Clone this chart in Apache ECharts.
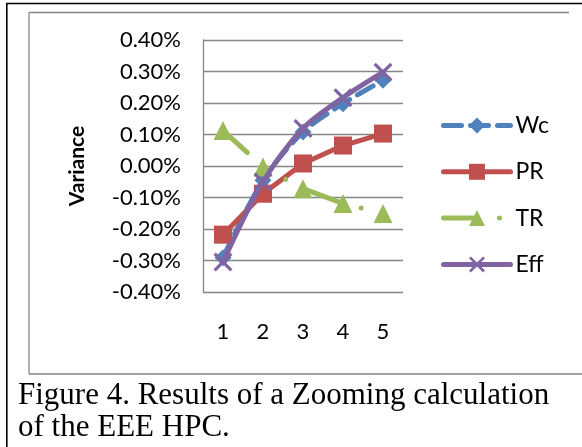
<!DOCTYPE html>
<html>
<head>
<meta charset="utf-8">
<script src="https://cdn.jsdelivr.net/npm/echarts@6/dist/echarts.min.js"></script>
<style>
html,body{margin:0;padding:0;background:#fff;}
#chart{width:582px;height:447px;}
</style>
</head>
<body>
<div id="chart"></div>
<script>
const categories = ['1', '2', '3', '4', '5'];
const wcValues  = [-0.291, -0.045, 0.108, 0.198, 0.272];
const prValues  = [-0.218, -0.088, 0.008, 0.065, 0.103];
const trValues  = [0.113, -0.003, -0.072, -0.119, -0.151];
const effValues = [-0.305, -0.051, 0.119, 0.217, 0.298];
const yTicks = { min: -0.4, max: 0.4, interval: 0.1 };
const seriesNames = ['Wc', 'PR', 'TR', 'Eff'];
const captionLines = ['Figure 4. Results of a Zooming calculation', 'of the EEE HPC.'];

const labelFont = 'Lato, "Noto Sans", sans-serif';
const xMark = 'path://M0,1.2 L1.2,0 L10,8.8 L8.8,10 Z M8.8,0 L10,1.2 L1.2,10 L0,8.8 Z';
const LW = 5;

const chart = echarts.init(document.getElementById('chart'), null, {renderer: 'canvas'});
chart.setOption({
  animation: false,
  backgroundColor: '#fff',
  grid: { left: 203, top: 40, width: 200, height: 252, containLabel: false },
  legend: {
    orient: 'vertical',
    left: 441,
    top: 114,
    padding: 0,
    itemWidth: 67,
    itemHeight: 20,
    itemGap: 23.3,
    lineStyle: { width: LW },
    textStyle: { fontFamily: labelFont, fontSize: 23, color: '#000' },
    data: [
      { name: seriesNames[0] },
      { name: seriesNames[1] },
      { name: seriesNames[2], lineStyle: { width: LW, type: [30, 26, 0.01, 100] } },
      { name: seriesNames[3] }
    ]
  },
  xAxis: {
    type: 'category',
    data: categories,
    boundaryGap: true,
    axisLine: { show: false },
    axisTick: { show: false },
    axisLabel: { margin: 29, fontFamily: labelFont, fontSize: 22, color: '#000' }
  },
  yAxis: {
    type: 'value',
    min: yTicks.min,
    max: yTicks.max,
    interval: yTicks.interval,
    name: 'Variance',
    nameLocation: 'middle',
    nameRotate: 90,
    nameGap: 115,
    nameTextStyle: { fontFamily: labelFont, fontSize: 21, fontWeight: 'bold', color: '#000' },
    axisLine: { show: true, lineStyle: { color: '#868686', width: 1.3 } },
    axisTick: { show: false },
    splitLine: { show: true, lineStyle: { color: '#868686', width: 1.3 } },
    axisLabel: {
      margin: 22,
      fontFamily: labelFont, fontSize: 22, color: '#000',
      formatter: v => (Math.abs(v) < 1e-9 ? 0 : v).toFixed(2) + '%'
    }
  },
  series: [
    {
      name: seriesNames[0], type: 'line', data: wcValues, smooth: 0.3,
      symbol: 'diamond', symbolSize: 17,
      itemStyle: { color: '#4F81BD' },
      lineStyle: { color: '#4F81BD', width: LW, type: [18, 9], cap: 'round' },
      z: 2
    },
    {
      name: seriesNames[1], type: 'line', data: prValues,
      symbol: 'rect', symbolSize: 18,
      itemStyle: { color: '#C0504D' },
      lineStyle: { color: '#C0504D', width: LW, cap: 'round' },
      z: 3
    },
    {
      name: seriesNames[2], type: 'line', data: trValues,
      symbol: 'triangle', symbolSize: 19,
      itemStyle: { color: '#9BBB59' },
      lineStyle: { color: '#9BBB59', width: LW, type: [33, 47, 0.01, 19, 43, 19, 0.01, 100], cap: 'round' },
      z: 4
    },
    {
      name: seriesNames[3], type: 'line', data: effValues, smooth: 0.3,
      symbol: xMark, symbolSize: 19,
      itemStyle: { color: '#8064A2' },
      lineStyle: { color: '#8064A2', width: LW, cap: 'round' },
      z: 5
    }
  ],
  graphic: [
    { type: 'line', shape: { x1: 6, y1: 3.5, x2: 582, y2: 3.5 }, style: { stroke: '#000', lineWidth: 1.6 } },
    { type: 'line', shape: { x1: 6.8, y1: 3, x2: 6.8, y2: 447 }, style: { stroke: '#000', lineWidth: 1.6 } },
    { type: 'line', shape: { x1: 29, y1: 12.5, x2: 569, y2: 12.5 }, style: { stroke: '#868686', lineWidth: 1.3 } },
    { type: 'line', shape: { x1: 29, y1: 12.5, x2: 29, y2: 374 }, style: { stroke: '#868686', lineWidth: 1.3 } },
    { type: 'line', shape: { x1: 29, y1: 374, x2: 582, y2: 374 }, style: { stroke: '#868686', lineWidth: 1.3 } },
    { type: 'text', left: 18, top: 380, style: { text: captionLines[0], font: '31px "Liberation Serif", "Times New Roman", serif', fill: '#000' } },
    { type: 'text', left: 18, top: 412, style: { text: captionLines[1], font: '31px "Liberation Serif", "Times New Roman", serif', fill: '#000' } }
  ]
});
</script>
</body>
</html>
